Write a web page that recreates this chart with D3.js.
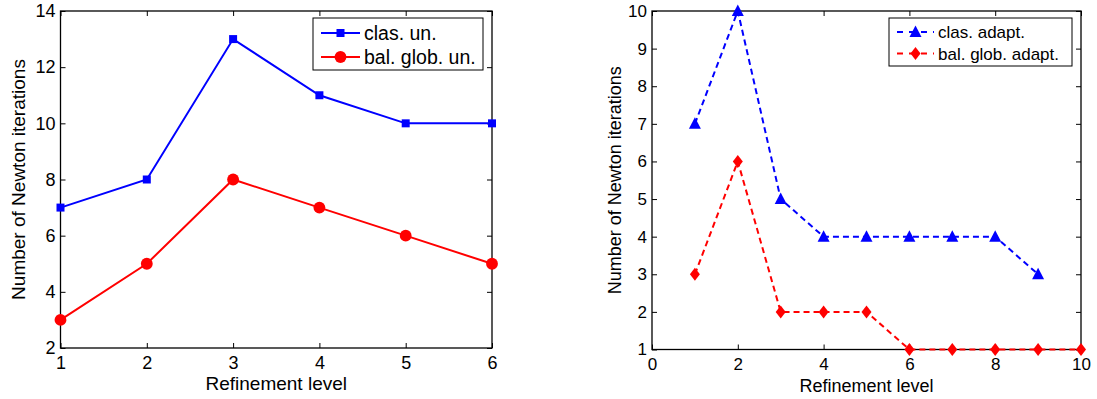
<!DOCTYPE html>
<html>
<head>
<meta charset="utf-8">
<script src="https://cdn.jsdelivr.net/npm/d3@7"></script>
<style>
  body { margin: 0; background: #fff; }
  text { font-family: "Liberation Sans", Arial, sans-serif; fill: #000; }
</style>
</head>
<body>
<svg id="chart" width="1097" height="399"></svg>
<script>
// data
const levelsUn = [1, 2, 3, 4, 5, 6]
const clasUn = [7, 8, 13, 11, 10, 10]
const balUn = [3, 5, 8, 7, 6, 5]

const levelsClasAd = [1, 2, 3, 4, 5, 6, 7, 8, 9]
const clasAdapt = [7, 10, 5, 4, 4, 4, 4, 4, 3]
const levelsBalAd = [1, 2, 3, 4, 5, 6, 7, 8, 9, 10]
const balAdapt = [3, 6, 2, 2, 2, 1, 1, 1, 1, 1]

const leftTicksX = [1, 2, 3, 4, 5, 6]
const leftTicksY = [2, 4, 6, 8, 10, 12, 14]
const rightTicksX = [0, 2, 4, 6, 8, 10]
const rightTicksY = [1, 2, 3, 4, 5, 6, 7, 8, 9, 10]

const svg = d3.select("#chart")

// draw one panel
function panel(opt) {
  const x = d3.scaleLinear().domain(opt.xdom).range([opt.x0, opt.x1])
  const y = d3.scaleLinear().domain(opt.ydom).range([opt.y1, opt.y0])
  const g = svg.append("g")
  const tl = 5
  const fmt = d3.format("d")

  // ticks on all four sides, pointing in
  const bottom = d3.axisBottom(x).tickValues(opt.xticks).tickSizeInner(-tl).tickSizeOuter(0).tickPadding(8).tickFormat(fmt)
  const top = d3.axisTop(x).tickValues(opt.xticks).tickSizeInner(-tl).tickSizeOuter(0).tickFormat("")
  const left = d3.axisLeft(y).tickValues(opt.yticks).tickSizeInner(-tl).tickSizeOuter(0).tickPadding(5).tickFormat(fmt)
  const right = d3.axisRight(y).tickValues(opt.yticks).tickSizeInner(-tl).tickSizeOuter(0).tickFormat("")

  const ax = [
    g.append("g").attr("transform", `translate(0,${opt.y1})`).call(bottom),
    g.append("g").attr("transform", `translate(0,${opt.y0})`).call(top),
    g.append("g").attr("transform", `translate(${opt.x0},0)`).call(left),
    g.append("g").attr("transform", `translate(${opt.x1},0)`).call(right)
  ]
  ax.forEach(a => {
    a.select(".domain").remove()
    a.selectAll("line").attr("stroke", "#000").attr("stroke-width", 1)
    a.selectAll("text").attr("font-size", opt.tickFont).attr("font-family", "Liberation Sans, Arial, sans-serif")
  })

  g.append("rect")
    .attr("x", opt.x0).attr("y", opt.y0)
    .attr("width", opt.x1 - opt.x0).attr("height", opt.y1 - opt.y0)
    .attr("fill", "none").attr("stroke", "#000").attr("stroke-width", 1.3)

  // axis labels
  g.append("text")
    .attr("x", (opt.x0 + opt.x1) / 2).attr("y", opt.y1 + 42)
    .attr("text-anchor", "middle").attr("font-size", opt.labFont)
    .text("Refinement level")
  g.append("text")
    .attr("transform", `translate(${opt.ylabX},${(opt.y0 + opt.y1) / 2}) rotate(-90)`)
    .attr("text-anchor", "middle").attr("font-size", opt.labFont)
    .text("Number of Newton iterations")

  const line = d3.line().x(d => x(d[0])).y(d => y(d[1]))

  opt.series.forEach(s => {
    const pts = s.xs.map((v, i) => [v, s.ys[i]])
    g.append("path")
      .attr("d", line(pts))
      .attr("fill", "none").attr("stroke", s.color).attr("stroke-width", 2)
      .attr("stroke-dasharray", s.dash || null)
    g.selectAll(null).data(pts).enter()
      .append("path")
      .attr("transform", d => `translate(${x(d[0])},${y(d[1])})`)
      .attr("d", s.sym)
      .attr("fill", s.color)
  })

  // legend
  const lg = g.append("g")
  const L = opt.leg
  lg.append("rect")
    .attr("x", L.x).attr("y", L.y)
    .attr("width", L.w).attr("height", L.h)
    .attr("fill", "#fff").attr("stroke", "#000").attr("stroke-width", 1)
  opt.series.forEach((s, i) => {
    const cy = L.y + L.first + i * L.step
    const lx = L.x + 8
    lg.append("line")
      .attr("x1", lx).attr("x2", lx + L.len).attr("y1", cy).attr("y2", cy)
      .attr("stroke", s.color).attr("stroke-width", 2)
      .attr("stroke-dasharray", s.dash ? "6,6" : null)
    lg.append("path")
      .attr("transform", `translate(${lx + L.len / 2},${cy})`)
      .attr("d", s.sym).attr("fill", s.color)
    lg.append("text")
      .attr("x", lx + L.len + 4).attr("y", cy + L.font * 0.36)
      .attr("font-size", L.font)
      .text(s.name)
  })
}

const sq = "M-4,-4H4V4H-4Z"
const circ = d3.symbol(d3.symbolCircle, 110)()
const tri = "M0,-6.5L6,5H-6Z"
const dia = "M0,-6.5L5,0L0,6.5L-5,0Z"

panel({
  x0: 60.5, x1: 492, y0: 11, y1: 348,
  xdom: [1, 6], ydom: [2, 14],
  xticks: leftTicksX, yticks: leftTicksY,
  tickFont: 18, labFont: 19,
  ylabX: 25,
  leg: { x: 313, y: 18, w: 170, h: 52, first: 15, step: 24, len: 39, font: 19.5 },
  series: [
    { name: "clas. un.", xs: levelsUn, ys: clasUn, color: "#0000ff", sym: sq },
    { name: "bal. glob. un.", xs: levelsUn, ys: balUn, color: "#ff0000", sym: circ }
  ]
})

panel({
  x0: 652, x1: 1081, y0: 11, y1: 349.5,
  xdom: [0, 10], ydom: [1, 10],
  xticks: rightTicksX, yticks: rightTicksY,
  tickFont: 17, labFont: 18,
  ylabX: 621,
  leg: { x: 889, y: 18, w: 183, h: 48, first: 14, step: 21.5, len: 37, font: 17 },
  series: [
    { name: "clas. adapt.", xs: levelsClasAd, ys: clasAdapt, color: "#0000ff", sym: tri, dash: "6,4" },
    { name: "bal. glob. adapt.", xs: levelsBalAd, ys: balAdapt, color: "#ff0000", sym: dia, dash: "6,4" }
  ]
})
</script>
</body>
</html>
